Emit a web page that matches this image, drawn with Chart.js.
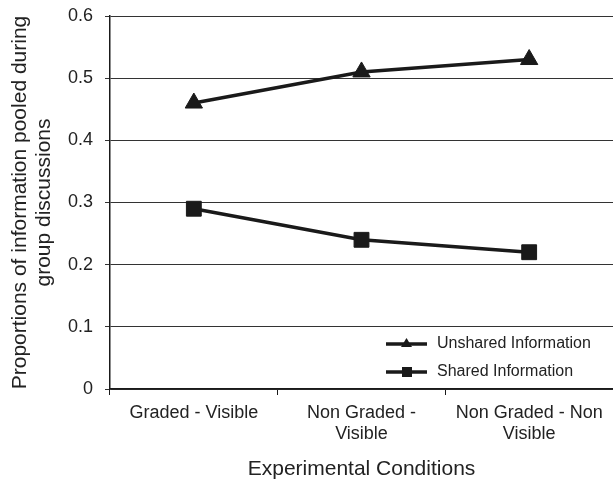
<!DOCTYPE html>
<html>
<head>
<meta charset="utf-8">
<script src="https://cdn.jsdelivr.net/npm/chart.js@4.4.1/dist/chart.umd.min.js"></script>
<style>
  html, body { margin: 0; padding: 0; background: #fff; overflow: hidden; }
  #wrap { width: 613px; height: 487px; }
  canvas { display: block; }
</style>
</head>
<body>
<div id="wrap"><canvas id="chart"></canvas></div>
<script>
const conditions = [
  "Graded - Visible",
  ["Non Graded -", "Visible"],
  ["Non Graded - Non", "Visible"]
];
const unshared = [0.46, 0.51, 0.53];
const shared = [0.29, 0.24, 0.22];
const yTicks = [0, 0.1, 0.2, 0.3, 0.4, 0.5, 0.6];

const FONT = "'Liberation Sans', Arial, sans-serif";
const INK = "#1a1a1a";

// legend drawn inside the lower right of the plot
const innerLegend = {
  id: "innerLegend",
  afterDraw(chart) {
    const ctx = chart.ctx;
    const area = chart.chartArea;
    const x0 = area.right - 227;
    const rows = [area.bottom - 45, area.bottom - 17];
    ctx.save();
    chart.data.datasets.forEach(function (ds, i) {
      const y = rows[i];
      ctx.strokeStyle = INK;
      ctx.lineWidth = 3.5;
      ctx.beginPath();
      ctx.moveTo(x0, y);
      ctx.lineTo(x0 + 41, y);
      ctx.stroke();
      ctx.fillStyle = INK;
      if (ds.pointStyle === "triangle") {
        ctx.beginPath();
        ctx.moveTo(x0 + 20.5, y - 6);
        ctx.lineTo(x0 + 26, y + 3);
        ctx.lineTo(x0 + 15, y + 3);
        ctx.closePath();
        ctx.fill();
      } else {
        ctx.fillRect(x0 + 16, y - 5, 10, 10);
      }
      ctx.font = "16px " + FONT;
      ctx.textBaseline = "middle";
      ctx.fillStyle = "#222";
      ctx.fillText(ds.label, x0 + 51, y);
    });
    ctx.restore();
  }
};

new Chart(document.getElementById("chart"), {
  type: "line",
  data: {
    labels: conditions,
    datasets: [
      {
        label: "Unshared Information",
        data: unshared,
        borderColor: INK,
        backgroundColor: INK,
        borderWidth: 3.5,
        pointStyle: "triangle",
        pointRadius: 10,
        pointBorderWidth: 1,
        tension: 0,
      },
      {
        label: "Shared Information",
        data: shared,
        borderColor: INK,
        backgroundColor: INK,
        borderWidth: 3.5,
        pointStyle: "rect",
        pointRadius: 10.5,
        pointBorderWidth: 1,
        tension: 0,
      },
    ],
  },
  options: {
    responsive: true,
    maintainAspectRatio: false,
    animation: false,
    layout: { autoPadding: false, padding: { top: 16, right: 0, left: 0, bottom: 0 } },
    plugins: {
      legend: { display: false },
      tooltip: { enabled: false },
    },
    scales: {
      x: {
        offset: true,
        afterFit: function (scale) {
          scale.height = 98;
          scale.paddingLeft = 0;
          scale.paddingRight = 0;
        },
        grid: { offset: true, drawOnChartArea: false, color: INK, tickLength: 6 },
        border: { color: INK, width: 1.5 },
        ticks: { color: "#222", font: { family: FONT, size: 18, lineHeight: 1.2 }, maxRotation: 0, padding: 7 },
        title: {
          display: true,
          text: "Experimental Conditions",
          color: "#222",
          font: { family: FONT, size: 21, lineHeight: 1.2 },
          padding: { top: 0, bottom: 5 },
        },
      },
      y: {
        min: 0,
        max: 0.6,
        afterFit: function (scale) {
          scale.width = 110;
          scale.paddingTop = 0;
          scale.paddingBottom = 0;
        },
        afterBuildTicks: function (scale) {
          scale.ticks = yTicks.map(function (v) { return { value: v }; });
        },
        grid: { color: "#333", lineWidth: 1, tickLength: 5 },
        border: { color: INK, width: 1.5 },
        ticks: {
          color: "#222",
          font: { family: FONT, size: 18 },
          padding: 12,
          callback: function (v) { return String(v); },
        },
        title: {
          display: true,
          text: ["Proportions of information pooled during", "group discussions"],
          color: "#222",
          font: { family: FONT, size: 21, lineHeight: 1.15 },
          padding: { top: 8, bottom: 0 },
        },
      },
    },
  },
  plugins: [innerLegend],
});
</script>
</body>
</html>
